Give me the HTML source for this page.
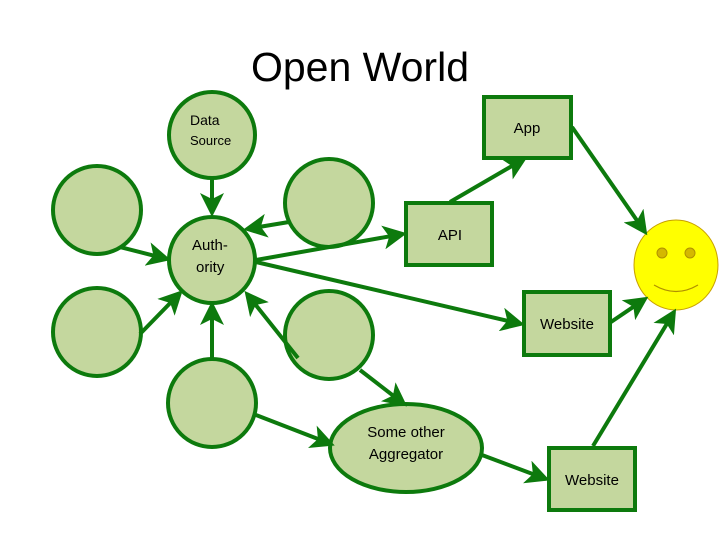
<!DOCTYPE html>
<html><head><meta charset="utf-8"><style>
body{margin:0;background:#fff;width:720px;height:540px;overflow:hidden}
svg{display:block}
text{font-family:"Liberation Sans",sans-serif;fill:#000}
</style></head><body>
<svg width="720" height="540" viewBox="0 0 720 540">
<defs>
<marker id="a" markerWidth="6" markerHeight="6" refX="5" refY="3" orient="auto" markerUnits="strokeWidth">
<path d="M0,0 L6,3 L0,6 L1.5,3 Z" fill="#0d7a0d"/></marker>
</defs>
<text x="360" y="81" font-size="41" text-anchor="middle">Open World</text>
<g fill="#c4d79e" stroke="#0d7a0d" stroke-width="4">
<circle cx="212" cy="135" r="43"/>
<circle cx="212" cy="260" r="43"/>
<circle cx="329" cy="203" r="44"/>
<circle cx="97" cy="210" r="44"/>
<circle cx="97" cy="332" r="44"/>
<circle cx="329" cy="335" r="44"/>
<circle cx="212" cy="403" r="44"/>
<ellipse cx="406" cy="448" rx="76" ry="44"/>
<rect x="484" y="97" width="87" height="61"/>
<rect x="406" y="203" width="86" height="62"/>
<rect x="524" y="292" width="86" height="63"/>
<rect x="549" y="448" width="86" height="62"/>
</g>
<ellipse cx="676" cy="265" rx="42" ry="45" fill="#ffff00" stroke="#c8a000" stroke-width="1"/>
<circle cx="662" cy="253" r="5" fill="#d4b800" stroke="#b09000"/>
<circle cx="690" cy="253" r="5" fill="#d4b800" stroke="#b09000"/>
<path d="M654,285 Q676,298 698,285" fill="none" stroke="#b09000" stroke-width="1.2"/>
<g stroke="#0d7a0d" stroke-width="4" fill="none" marker-end="url(#a)">
<line x1="212" y1="179" x2="212" y2="213"/>
<line x1="289" y1="222" x2="247" y2="229"/>
<line x1="120" y1="247" x2="167" y2="259"/>
<line x1="140" y1="334" x2="180" y2="293"/>
<line x1="256" y1="260" x2="403" y2="234"/>
<line x1="256" y1="262" x2="521" y2="324"/>
<line x1="298" y1="358" x2="247" y2="294"/>
<line x1="212" y1="358" x2="212" y2="305"/>
<line x1="360" y1="370" x2="404" y2="404"/>
<line x1="256" y1="415" x2="331" y2="444"/>
<line x1="482" y1="455" x2="546" y2="479"/>
<line x1="450" y1="202" x2="524" y2="159"/>
<line x1="572" y1="127" x2="645" y2="232"/>
<line x1="611" y1="322" x2="645" y2="299"/>
<line x1="593" y1="446" x2="674" y2="312"/>
</g>
<text x="190" y="125" font-size="14">Data</text>
<text x="190" y="145" font-size="13">Source</text>
<text x="192" y="250" font-size="15">Auth-</text>
<text x="196" y="272" font-size="15">ority</text>
<text x="527" y="133" font-size="15" text-anchor="middle">App</text>
<text x="450" y="240" font-size="15" text-anchor="middle">API</text>
<text x="567" y="329" font-size="15" text-anchor="middle">Website</text>
<text x="592" y="485" font-size="15" text-anchor="middle">Website</text>
<text x="406" y="437" font-size="15" text-anchor="middle">Some other</text>
<text x="406" y="459" font-size="15" text-anchor="middle">Aggregator</text>
</svg>
</body></html>
